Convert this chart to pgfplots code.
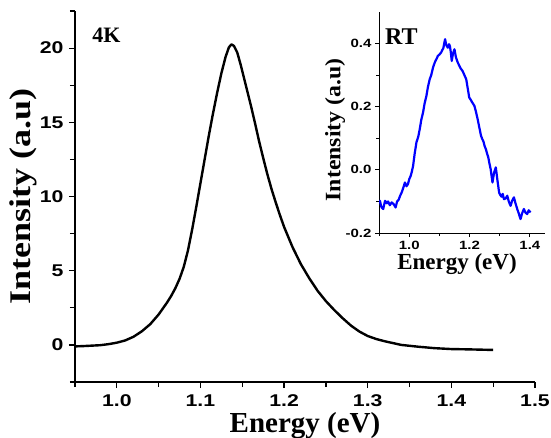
\documentclass[border=0pt]{standalone}
\usepackage{fontspec}
\setmainfont{Liberation Serif}
\newfontfamily\tickfont{Liberation Sans}[FakeStretch=1.25]
\newfontfamily\labfont{Liberation Serif}
\newfontfamily\ylabfont{Liberation Serif}[FakeStretch=1.2]
\newfontfamily\ysmallfont{Liberation Serif}[FakeStretch=1.08]
\usepackage{pgfplots}
\pgfplotsset{compat=1.18}

% main spectrum at 4 K
\pgfplotstableread{
E I
0.950 -0.10
0.960 -0.08
0.970 -0.05
0.980 -0.02
0.990 0.05
1.000 0.15
1.010 0.30
1.020 0.55
1.030 0.92
1.040 1.40
1.050 2.05
1.060 2.85
1.065 3.30
1.070 3.82
1.075 4.45
1.080 5.25
1.085 6.35
1.090 7.75
1.095 9.30
1.100 10.90
1.105 12.50
1.110 14.10
1.115 15.60
1.120 17.00
1.125 18.30
1.130 19.40
1.134 20.05
1.137 20.25
1.140 20.15
1.144 19.70
1.148 18.90
1.152 18.00
1.156 17.10
1.160 16.20
1.165 15.00
1.170 13.75
1.175 12.60
1.180 11.50
1.185 10.50
1.190 9.60
1.195 8.75
1.200 7.95
1.210 6.60
1.220 5.45
1.230 4.50
1.240 3.65
1.250 2.95
1.260 2.35
1.270 1.80
1.280 1.30
1.290 0.90
1.300 0.60
1.310 0.40
1.320 0.25
1.340 0.00
1.360 -0.12
1.380 -0.22
1.400 -0.28
1.420 -0.30
1.450 -0.34
}\lowT

% inset spectrum at room temperature
\pgfplotstableread{
E I
0.900 -0.10
0.903 -0.098
0.908 -0.118
0.914 -0.124
0.920 -0.098
0.926 -0.106
0.930 -0.100
0.936 -0.112
0.942 -0.103
0.948 -0.108
0.955 -0.119
0.960 -0.100
0.965 -0.095
0.970 -0.082
0.975 -0.072
0.980 -0.058
0.986 -0.040
0.991 -0.052
0.996 -0.045
1.000 -0.030
1.005 -0.019
1.009 -0.005
1.013 0.013
1.018 0.050
1.024 0.087
1.030 0.105
1.035 0.129
1.040 0.158
1.046 0.182
1.051 0.210
1.057 0.234
1.062 0.262
1.068 0.287
1.073 0.300
1.079 0.324
1.084 0.338
1.087 0.345
1.091 0.352
1.095 0.361
1.100 0.365
1.106 0.372
1.110 0.380
1.113 0.385
1.116 0.400
1.119 0.414
1.123 0.395
1.128 0.387
1.132 0.398
1.135 0.392
1.138 0.372
1.141 0.345
1.145 0.368
1.150 0.382
1.155 0.356
1.161 0.340
1.166 0.330
1.170 0.322
1.177 0.313
1.183 0.300
1.189 0.287
1.194 0.258
1.199 0.229
1.204 0.222
1.208 0.215
1.216 0.203
1.221 0.185
1.227 0.160
1.232 0.136
1.238 0.108
1.242 0.098
1.246 0.090
1.250 0.075
1.254 0.066
1.258 0.052
1.262 0.040
1.266 0.020
1.270 0.002
1.276 -0.040
1.281 -0.010
1.287 0.008
1.292 -0.030
1.298 -0.072
1.302 -0.080
1.306 -0.085
1.310 -0.076
1.314 -0.093
1.320 -0.090
1.325 -0.082
1.330 -0.100
1.336 -0.114
1.341 -0.098
1.347 -0.087
1.352 -0.105
1.358 -0.124
1.363 -0.138
1.369 -0.156
1.374 -0.138
1.380 -0.124
1.385 -0.135
1.391 -0.140
1.396 -0.128
1.402 -0.135
}\roomT

\begin{document}
\begin{tikzpicture}
\useasboundingbox (0,0) rectangle (551pt,437pt);

\begin{axis}[
  name=main,
  at={(75pt,55pt)}, anchor=south west,
  scale only axis, width=460pt, height=371pt,
  xmin=0.95, xmax=1.5, ymin=-2.5, ymax=22.5,
  axis x line*=bottom, axis y line*=left,
  axis line style={line width=1.2pt},
  tick align=outside, tick style={line width=1.2pt, black},
  major tick length=6pt, minor tick length=5pt,
  xtick={1.0,1.1,...,1.5}, minor xtick={0.95,1.05,...,1.45},
  ytick={0,5,...,20}, minor ytick={-2.5,2.5,...,22.5},
  xticklabels={1.0,1.1,1.2,1.3,1.4,1.5},
  /pgf/number format/assume math mode=true,
  tick label style={font=\tickfont\bfseries\fontsize{17}{19}\selectfont},
  xticklabel style={yshift=-3pt},
  yticklabel style={xshift=-2pt},
  xlabel={Energy (eV)}, ylabel={Intensity (a.u)},
  xlabel style={font=\labfont\bfseries\fontsize{29}{30}\selectfont,
    at={(axis description cs:0.5,-0.135)}, anchor=base},
  ylabel style={font=\ylabfont\bfseries\fontsize{30}{30}\selectfont,
    at={(axis description cs:-0.113,0.5)}, anchor=center},
]
\addplot[black, line width=2.4pt, line join=round] table[x=E,y=I] {\lowT};
\node[anchor=base west, font=\labfont\bfseries\fontsize{22}{22}\selectfont]
  at (rel axis cs:0.030,0.914) {4K};
\end{axis}

\begin{axis}[
  at={(379pt,204pt)}, anchor=south west,
  scale only axis, width=166pt, height=221pt,
  xmin=0.9, xmax=1.45, ymin=-0.2, ymax=0.5,
  axis x line*=bottom, axis y line*=left,
  axis line style={line width=1pt},
  tick align=outside, tick style={line width=1pt, black},
  major tick length=4pt, minor tick length=3pt,
  xtick={1.0,1.2,1.4}, minor xtick={0.9,1.1,1.3},
  ytick={-0.2,0,0.2,0.4}, minor ytick={-0.1,0.1,0.3},
  xticklabels={1.0,1.2,1.4}, yticklabels={-0.2,0.0,0.2,0.4},
  /pgf/number format/assume math mode=true,
  tick label style={font=\tickfont\bfseries\fontsize{12}{13}\selectfont},
  xticklabel style={yshift=-1pt},
  xlabel={Energy (eV)}, ylabel={Intensity (a.u)},
  xlabel style={font=\labfont\bfseries\fontsize{23}{23}\selectfont,
    at={(axis description cs:0.47,-0.167)}, anchor=base},
  ylabel style={font=\ysmallfont\bfseries\fontsize{22}{22}\selectfont,
    at={(axis description cs:-0.265,0.466)}, anchor=center},
]
\addplot[blue, line width=2.2pt, line join=round] table[x=E,y=I] {\roomT};
\node[anchor=base west, font=\labfont\bfseries\fontsize{24}{24}\selectfont]
  at (rel axis cs:0.015,0.851) {RT};
\end{axis}
\end{tikzpicture}
\end{document}
